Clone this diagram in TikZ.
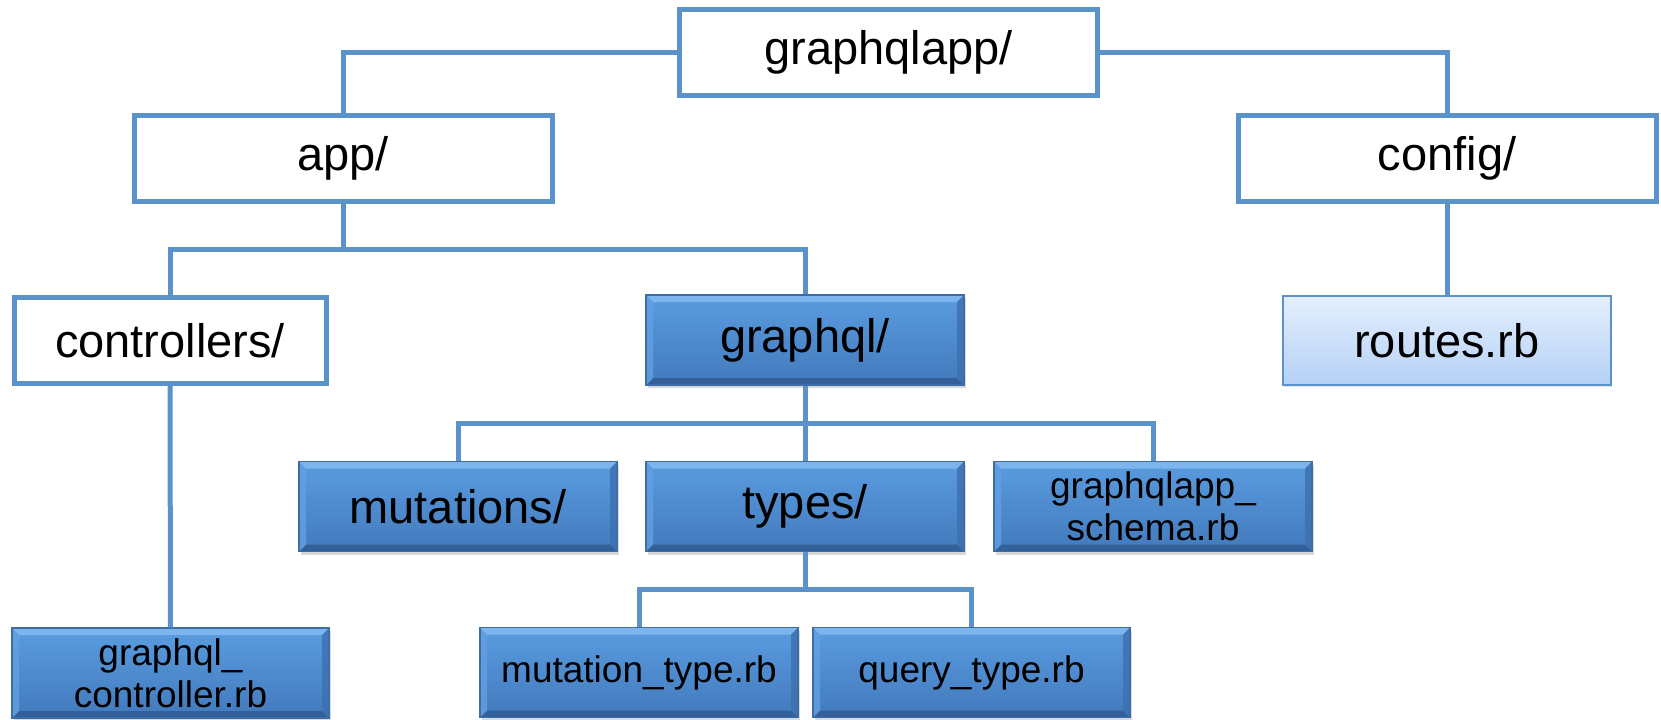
\documentclass[tikz,border=0pt]{standalone}
\usepackage{fontspec}
\setmainfont{Liberation Sans}
\usetikzlibrary{shadows}
\definecolor{lineblue}{RGB}{91,146,201}
\definecolor{btopc}{RGB}{90,156,224}
\definecolor{bbotc}{RGB}{66,122,188}
\definecolor{bhigh}{RGB}{125,182,238}
\definecolor{blow}{RGB}{52,96,154}
\definecolor{bleft}{RGB}{98,160,226}
\definecolor{bright}{RGB}{60,112,176}
\definecolor{bedge}{RGB}{62,108,165}
\definecolor{rtop}{RGB}{228,239,253}
\definecolor{rbot}{RGB}{181,209,246}
\tikzset{
  bigtext/.style={font=\fontsize{23.5}{28}\selectfont},
  smalltext/.style={font=\fontsize{18.5}{21}\selectfont, align=center},
  plainbox/.style={draw=lineblue, line width=2.5pt, fill=white, inner sep=0pt,
     minimum width=#1, minimum height=43pt,
     drop shadow={shadow xshift=0.6pt, shadow yshift=-1.2pt, opacity=0.18}},
  routebox/.style={draw=lineblue, line width=1.4pt, top color=rtop, bottom color=rbot, inner sep=0pt,
     minimum width=164pt, minimum height=44.5pt,
     drop shadow={shadow xshift=0.6pt, shadow yshift=-1.2pt, opacity=0.2}},
  bevelbox/.style={draw=bedge, line width=0.6pt, top color=btopc, bottom color=bbotc, inner sep=0pt,
     minimum width=#1, minimum height=45pt,
     drop shadow={shadow xshift=0.8pt, shadow yshift=-1.5pt, opacity=0.3},
     path picture={
       \coordinate (NW) at (path picture bounding box.north west);
       \coordinate (NE) at (path picture bounding box.north east);
       \coordinate (SW) at (path picture bounding box.south west);
       \coordinate (SE) at (path picture bounding box.south east);
       \fill[bhigh] (NW) -- (NE) -- ([shift={(-3.5pt,-3.5pt)}]NE) -- ([shift={(3.5pt,-3.5pt)}]NW) -- cycle;
       \fill[blow] (SW) -- (SE) -- ([shift={(-3.5pt,3.5pt)}]SE) -- ([shift={(3.5pt,3.5pt)}]SW) -- cycle;
       \fill[bleft, opacity=0.8] (NW) -- ([shift={(3.5pt,-3.5pt)}]NW) -- ([shift={(3.5pt,3.5pt)}]SW) -- (SW) -- cycle;
       \fill[bright, opacity=0.8] (NE) -- ([shift={(-3.5pt,-3.5pt)}]NE) -- ([shift={(-3.5pt,3.5pt)}]SE) -- (SE) -- cycle;
     }},
  conn/.style={draw=lineblue, line width=2.5pt}
}
\begin{document}
\begin{tikzpicture}[x=0.5pt, y=-0.5pt]
\useasboundingbox (0,0) rectangle (1661,719);
% outline boxes
\node[plainbox=209pt, bigtext] (root) at (888.5,52.5) {graphqlapp/};
\node[plainbox=209pt, bigtext] (app) at (343,158.5) {app/};
\node[plainbox=209pt, bigtext] (config) at (1447,158.5) {config/};
\node[plainbox=156pt, bigtext] (controllers) at (170,340.5) {controllers/};
\node[routebox, bigtext] (routes) at (1447,340.5) {routes.rb};
% bevel boxes
\node[bevelbox=159pt, bigtext] (graphql) at (805,340) {graphql/};
\node[bevelbox=159pt, bigtext] (mutations) at (458,506.5) {mutations/};
\node[bevelbox=159pt, bigtext] (types) at (805,506.5) {types/};
\node[bevelbox=159pt, smalltext] (schema) at (1153,506.5) {graphqlapp\_\\schema.rb};
\node[bevelbox=158.5pt, smalltext] (gctrl) at (170.5,673) {graphql\_\\controller.rb};
\node[bevelbox=159pt, smalltext] (mtype) at (639,672.5) {mutation\_type.rb};
\node[bevelbox=158.5pt, smalltext] (qtype) at (971.5,672.5) {query\_type.rb};
% bus coordinates
\coordinate (b1) at (343,249);
\coordinate (b2) at (805,423);
\coordinate (b3) at (805,589);
% connectors
\draw[conn] (root.west) -| (app.north);
\draw[conn] (root.east) -| (config.north);
\draw[conn] (config.south) -- (routes.north);
\draw[conn] (app.south) -- (b1);
\draw[conn] (controllers.north) |- (b1);
\draw[conn] (graphql.north) |- (b1);
\draw[conn] (controllers.south) -- (gctrl.north);
\draw[conn] (graphql.south) -- (b2);
\draw[conn] (mutations.north) |- (b2);
\draw[conn] (types.north) -- (b2);
\draw[conn] (schema.north) |- (b2);
\draw[conn] (types.south) -- (b3);
\draw[conn] (mtype.north) |- (b3);
\draw[conn] (qtype.north) |- (b3);
\end{tikzpicture}
\end{document}
